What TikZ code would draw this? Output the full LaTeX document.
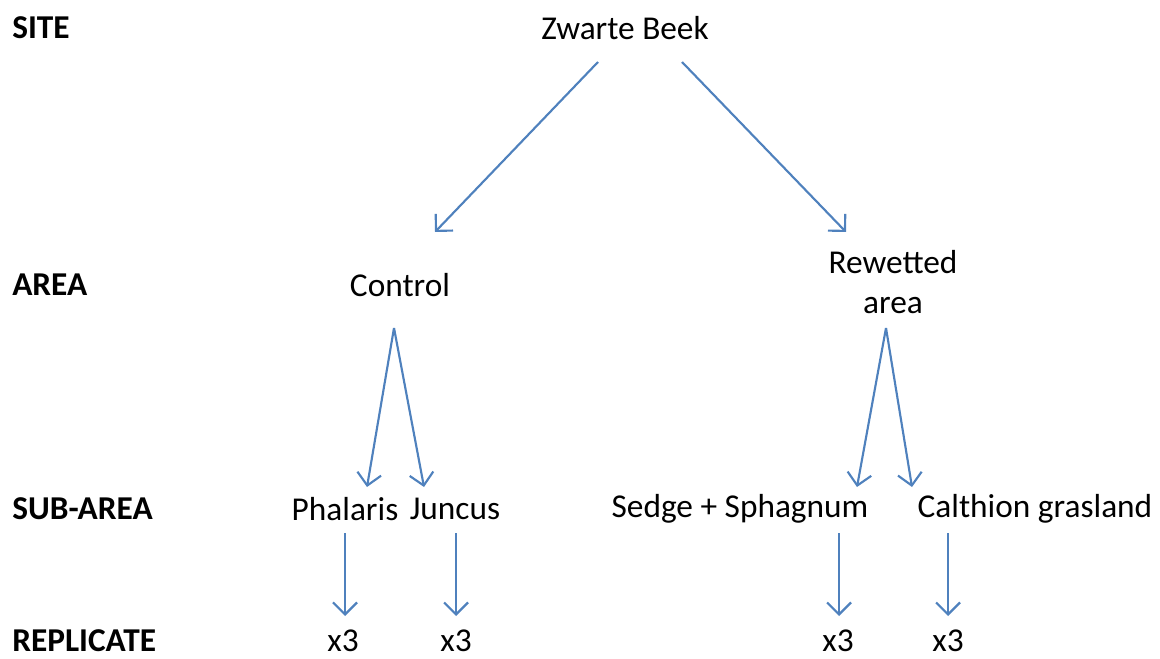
\documentclass[tikz,border=0pt]{standalone}
\usepackage{fontspec}
\setmainfont{Carlito}
\usetikzlibrary{arrows.meta}
\definecolor{arrblue}{HTML}{4F81BD}
\tikzset{
  lbl/.style={font=\fontsize{25}{30}\selectfont\bfseries, anchor=west, inner sep=0pt},
  txt/.style={font=\fontsize{25}{30}\selectfont, inner sep=0pt, align=center},
  arr/.style={draw=arrblue, line width=1.6pt, -{Straight Barb[length=9pt,width=18pt,line width=1.6pt]}},
}
\begin{document}
\begin{tikzpicture}[x=0.75pt,y=-0.75pt]
\useasboundingbox (0,0) rectangle (1160,659);
% level labels
\node[lbl] (lsite) at (12,28) {SITE};
\node[lbl] (larea) at (12,285) {AREA};
\node[lbl] (lsub) at (12,509) {SUB-AREA};
\node[lbl] (lrep) at (12,641) {REPLICATE};
% nodes
\node[txt] (zb) at (625,28) {Zwarte Beek};
\node[txt] (ctrl) at (400,285) {Control};
\node[txt] (rew) at (893,282) {Rewetted\\area};
\node[txt] (pha) at (345,509) {Phalaris};
\node[txt] (jun) at (455,509) {Juncus};
\node[txt] (sed) at (740,509) {Sedge + Sphagnum};
\node[txt] (cal) at (1035,509) {Calthion grasland};
\node[txt] (r1) at (343,641) {x3};
\node[txt] (r2) at (456,641) {x3};
\node[txt] (r3) at (838,641) {x3};
\node[txt] (r4) at (948,641) {x3};
% connector ends
\coordinate (zbl) at (598,62);
\coordinate (zbr) at (682,62);
\coordinate (ctrlin) at (435,232);
\coordinate (rewin) at (846,232);
\coordinate (ctrlout) at (394,328);
\coordinate (rewout) at (886,328);
\coordinate (phain) at (367,487);
\coordinate (junin) at (424,487);
\coordinate (sedin) at (857,487);
\coordinate (calin) at (912,487);
\coordinate (phaout) at (345,533);
\coordinate (junout) at (456,533);
\coordinate (sedout) at (839,533);
\coordinate (calout) at (948,533);
\coordinate (r1in) at (345,616);
\coordinate (r2in) at (456,616);
\coordinate (r3in) at (839,616);
\coordinate (r4in) at (948,616);
% connectors
\draw[arr] (zbl) -- (ctrlin);
\draw[arr] (zbr) -- (rewin);
\draw[arr] (ctrlout) -- (phain);
\draw[arr] (ctrlout) -- (junin);
\draw[arr] (rewout) -- (sedin);
\draw[arr] (rewout) -- (calin);
\draw[arr] (phaout) -- (r1in);
\draw[arr] (junout) -- (r2in);
\draw[arr] (sedout) -- (r3in);
\draw[arr] (calout) -- (r4in);
\end{tikzpicture}
\end{document}
